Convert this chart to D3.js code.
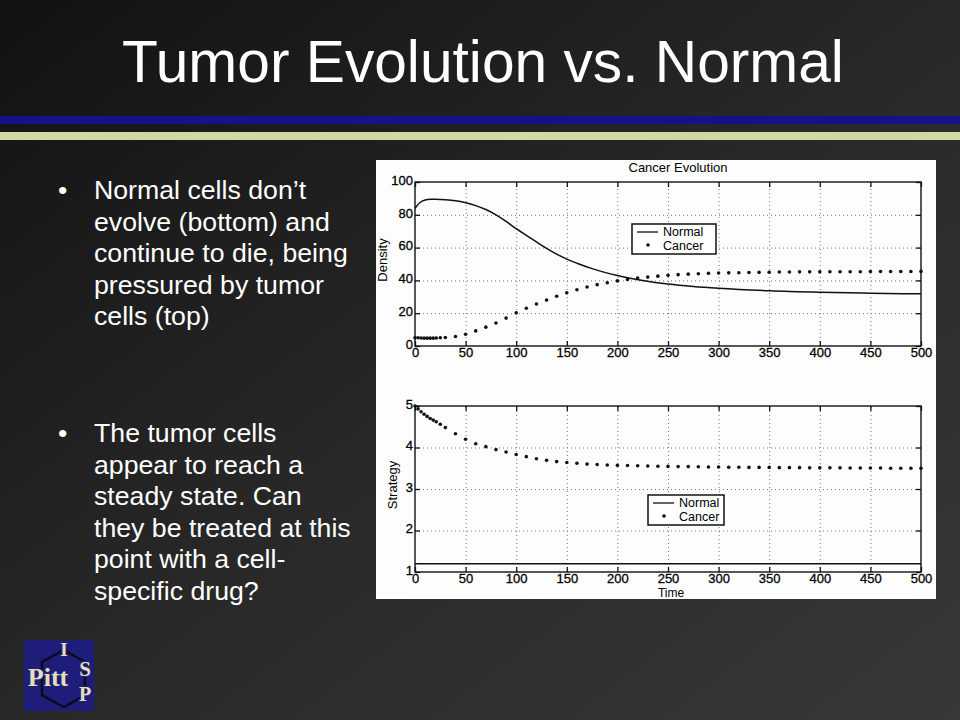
<!DOCTYPE html>
<html>
<head>
<meta charset="utf-8">
<script src="https://cdn.jsdelivr.net/npm/d3@7"></script>
<style>
  body { margin: 0; background: #222; }
  svg { display: block; }
  .slide-text { font-family: "Liberation Sans", Arial, sans-serif; fill: #fff; }
  .fig-text { font-family: "Liberation Sans", Arial, sans-serif; fill: #000; }
</style>
</head>
<body>
<div id="chart"></div>
<script>
// Data
const timeTicks = [0, 50, 100, 150, 200, 250, 300, 350, 400, 450, 500];
const densityTicks = [0, 20, 40, 60, 80, 100];
const strategyTicks = [1, 2, 3, 4, 5];

const normalTime = [0, 5, 10, 15, 20, 30, 40, 50, 60, 70, 80, 90, 100, 110, 120, 130, 140, 150, 160, 175, 200, 225, 250, 275, 300, 350, 400, 450, 500];
const normalDensity = [84, 87.5, 89, 89.5, 89.5, 89.2, 88.6, 87.4, 85.6, 83.2, 80, 76, 71.5, 67.5, 63.5, 59.5, 56, 53, 50.5, 47.2, 43, 40, 37.8, 36.3, 35.2, 33.7, 32.8, 32.2, 31.8];

const normalStrategyTime = [0, 500];
const normalStrategy = [1.2, 1.2];

const cancerTime = [0, 3, 6, 9, 12, 15, 18, 21, 25, 30,
    40, 50, 60, 70, 80, 90, 100, 110, 120, 130,
    140, 150, 160, 170, 180, 190, 200, 210, 220, 230,
    240, 250, 260, 270, 280, 290, 300, 310, 320, 330,
    340, 350, 360, 370, 380, 390, 400, 410, 420, 430,
    440, 450, 460, 470, 480, 490, 500];
const cancerDensity = [5, 5, 4.9, 4.8, 4.8, 4.8, 4.8, 4.9, 5, 5.2,
    5.8, 7.2, 9.2, 11.5, 14, 17, 20.2, 23, 25.6, 28,
    30.3, 32.4, 34.3, 36, 37.4, 38.6, 39.7, 40.6, 41.4, 42,
    42.6, 43.1, 43.5, 43.8, 44.1, 44.3, 44.5, 44.6, 44.7, 44.8,
    44.9, 45, 45.1, 45.1, 45.2, 45.2, 45.2, 45.3, 45.3, 45.3,
    45.3, 45.4, 45.4, 45.4, 45.4, 45.4, 45.5];
const cancerStrategy = [5.0, 4.93, 4.86, 4.8, 4.75, 4.7, 4.66, 4.62, 4.56, 4.48,
    4.33, 4.2, 4.09, 4.02, 3.95, 3.89, 3.83, 3.78, 3.73, 3.69,
    3.66, 3.64, 3.62, 3.6, 3.59, 3.58, 3.57, 3.565, 3.56, 3.555,
    3.55, 3.545, 3.54, 3.54, 3.535, 3.53, 3.53, 3.525, 3.525, 3.52,
    3.52, 3.52, 3.515, 3.515, 3.515, 3.51, 3.51, 3.51, 3.51, 3.505,
    3.505, 3.505, 3.505, 3.5, 3.5, 3.5, 3.5];

const bullet1 = ["Normal cells don\u2019t", "evolve (bottom) and", "continue to die, being", "pressured by tumor", "cells (top)"];
const bullet2 = ["The tumor cells", "appear to reach a", "steady state. Can", "they be treated at this", "point with a cell-", "specific drug?"];

const width = 960, height = 720;

const svg = d3.select("#chart")
    .append("svg")
    .attr("width", width)
    .attr("height", height);

// Slide background
const defs = svg.append("defs");
const bg = defs.append("linearGradient")
    .attr("id", "bg")
    .attr("x1", "0").attr("y1", "0")
    .attr("x2", "1").attr("y2", "1");
bg.append("stop").attr("offset", "0%").attr("stop-color", "#121212");
bg.append("stop").attr("offset", "55%").attr("stop-color", "#2a2a2a");
bg.append("stop").attr("offset", "100%").attr("stop-color", "#383838");

svg.append("rect").attr("width", width).attr("height", height).attr("fill", "url(#bg)");

// Title
svg.append("text")
    .attr("class", "slide-text")
    .attr("x", 483)
    .attr("y", 82)
    .attr("text-anchor", "middle")
    .attr("font-size", 58.7)
    .text("Tumor Evolution vs. Normal");

// Header bars
svg.append("rect").attr("x", 0).attr("y", 116).attr("width", width).attr("height", 8).attr("fill", "#16108c");
svg.append("rect").attr("x", 0).attr("y", 132).attr("width", width).attr("height", 8).attr("fill", "#d3d7a5");

// Bullets
function addBullet(lines, y0) {
    svg.append("text")
        .attr("class", "slide-text")
        .attr("x", 58)
        .attr("y", y0)
        .attr("font-size", 26.7)
        .text("\u2022");
    svg.append("text")
        .attr("class", "slide-text")
        .attr("font-size", 26.7)
        .selectAll("tspan")
        .data(lines)
        .enter()
        .append("tspan")
        .attr("x", 94)
        .attr("y", (d, i) => y0 + i * 31.5)
        .text((d) => d);
}
addBullet(bullet1, 199);
addBullet(bullet2, 442);

// Figure panel
svg.append("rect")
    .attr("x", 376).attr("y", 160)
    .attr("width", 560).attr("height", 439)
    .attr("fill", "#fdfdfd");

const x = d3.scaleLinear().domain([0, 500]).range([415, 921]);
const yDensity = d3.scaleLinear().domain([0, 100]).range([346, 182]);
const yStrategy = d3.scaleLinear().domain([1, 5]).range([572, 406]);

function drawAxes(y, yTicks) {
    const [x0, x1] = x.range();
    const [yb, yt] = y.range();
    const g = svg.append("g");

    // dotted grid
    g.append("g")
        .attr("class", "grid")
        .attr("transform", `translate(0,${yb})`)
        .call(d3.axisBottom(x).tickValues(timeTicks.slice(1, -1)).tickSize(-(yb - yt)).tickFormat(""));
    g.append("g")
        .attr("class", "grid")
        .attr("transform", `translate(${x0},0)`)
        .call(d3.axisLeft(y).tickValues(yTicks.slice(1, -1)).tickSize(-(x1 - x0)).tickFormat(""));
    g.selectAll(".grid .domain").remove();
    g.selectAll(".grid line")
        .attr("stroke", "#777")
        .attr("stroke-width", 1)
        .attr("stroke-dasharray", "1,3");

    // ticks (inward, MATLAB style)
    g.append("g").attr("class", "ax")
        .attr("transform", `translate(0,${yb})`)
        .call(d3.axisBottom(x).tickValues(timeTicks).tickSizeInner(-5).tickSizeOuter(0).tickPadding(2));
    g.append("g").attr("class", "ax")
        .attr("transform", `translate(0,${yt})`)
        .call(d3.axisTop(x).tickValues(timeTicks).tickSizeInner(-5).tickSizeOuter(0).tickFormat(""));
    const left = g.append("g").attr("class", "ax")
        .attr("transform", `translate(${x0},0)`)
        .call(d3.axisLeft(y).tickValues(yTicks).tickFormat(d3.format("d")).tickSizeInner(-5).tickSizeOuter(0).tickPadding(2));
    left.selectAll("text").attr("dy", "0.18em");
    g.append("g").attr("class", "ax")
        .attr("transform", `translate(${x1},0)`)
        .call(d3.axisRight(y).tickValues(yTicks).tickSizeInner(-5).tickSizeOuter(0).tickFormat(""));
    g.selectAll(".ax .domain").remove();
    g.selectAll(".ax line").attr("stroke", "#111").attr("stroke-width", 1.3);
    g.selectAll(".ax text")
        .attr("class", "fig-text")
        .attr("font-size", 13)
        .attr("fill", "#000")
        .attr("stroke", "#000")
        .attr("stroke-width", 0.3);

    // box
    g.append("rect")
        .attr("x", x0).attr("y", yt)
        .attr("width", x1 - x0).attr("height", yb - yt)
        .attr("fill", "none")
        .attr("stroke", "#111")
        .attr("stroke-width", 1.4);
}

function drawSeries(y, lineT, lineV, dotT, dotV) {
    const line = d3.line()
        .x((d) => x(d[0]))
        .y((d) => y(d[1]))
        .curve(d3.curveMonotoneX);
    svg.append("path")
        .datum(lineT.map((t, i) => [t, lineV[i]]))
        .attr("fill", "none")
        .attr("stroke", "#111")
        .attr("stroke-width", 1.5)
        .attr("d", line);
    svg.append("g")
        .selectAll("circle")
        .data(dotT.map((t, i) => [t, dotV[i]]))
        .enter()
        .append("circle")
        .attr("cx", (d) => x(d[0]))
        .attr("cy", (d) => y(d[1]))
        .attr("r", 1.8)
        .attr("fill", "#111");
}

function drawLegend(bx, by, bw, bh) {
    const g = svg.append("g").attr("transform", `translate(${bx},${by})`);
    g.append("rect")
        .attr("width", bw).attr("height", bh)
        .attr("fill", "#fff")
        .attr("stroke", "#111")
        .attr("stroke-width", 1.5);
    g.append("line")
        .attr("x1", 5).attr("x2", 26)
        .attr("y1", 8).attr("y2", 8)
        .attr("stroke", "#111").attr("stroke-width", 1.3);
    g.append("circle").attr("cx", 16).attr("cy", 21).attr("r", 1.8).attr("fill", "#111");
    g.append("text").attr("class", "fig-text").attr("x", 31).attr("y", 12).attr("font-size", 12.5).text("Normal");
    g.append("text").attr("class", "fig-text").attr("x", 31).attr("y", 25.5).attr("font-size", 12.5).text("Cancer");
}

// Top: density
drawAxes(yDensity, densityTicks);
drawSeries(yDensity, normalTime, normalDensity, cancerTime, cancerDensity);
drawLegend(632, 224, 84, 30);

svg.append("text")
    .attr("class", "fig-text")
    .attr("x", 678).attr("y", 172)
    .attr("text-anchor", "middle")
    .attr("font-size", 13)
    .text("Cancer Evolution");

svg.append("text")
    .attr("class", "fig-text")
    .attr("transform", "translate(387,260) rotate(-90)")
    .attr("text-anchor", "middle")
    .attr("font-size", 13)
    .text("Density");

// Bottom: strategy
drawAxes(yStrategy, strategyTicks);
drawSeries(yStrategy, normalStrategyTime, normalStrategy, cancerTime, cancerStrategy);
drawLegend(648, 495, 76, 30);

svg.append("text")
    .attr("class", "fig-text")
    .attr("transform", "translate(397,485) rotate(-90)")
    .attr("text-anchor", "middle")
    .attr("font-size", 13)
    .text("Strategy");

svg.append("text")
    .attr("class", "fig-text")
    .attr("x", 671).attr("y", 597)
    .attr("text-anchor", "middle")
    .attr("font-size", 12)
    .text("Time");

// Logo
const logo = svg.append("g");
logo.append("rect").attr("x", 24).attr("y", 640).attr("width", 70).attr("height", 71).attr("fill", "#1f1d7a");
logo.append("polygon")
    .attr("points", "64,650 85,662 85,695 64,707 42,695 42,662")
    .attr("fill", "none")
    .attr("stroke", "#0b0b1e")
    .attr("stroke-width", 2.5);
const logoText = [
    { t: "I", x: 64, y: 656, s: 19 },
    { t: "S", x: 85, y: 676, s: 21 },
    { t: "P", x: 85, y: 701, s: 20 },
    { t: "Pitt", x: 48, y: 686, s: 26 },
];
logo.selectAll("text")
    .data(logoText)
    .enter()
    .append("text")
    .attr("x", (d) => d.x)
    .attr("y", (d) => d.y)
    .attr("text-anchor", "middle")
    .attr("font-family", "'Liberation Serif', 'DejaVu Serif', serif")
    .attr("font-weight", "bold")
    .attr("font-size", (d) => d.s)
    .attr("fill", "#e4e0b6")
    .attr("stroke", "#1f1d7a")
    .attr("stroke-width", 2.5)
    .attr("paint-order", "stroke")
    .text((d) => d.t);
</script>
</body>
</html>
